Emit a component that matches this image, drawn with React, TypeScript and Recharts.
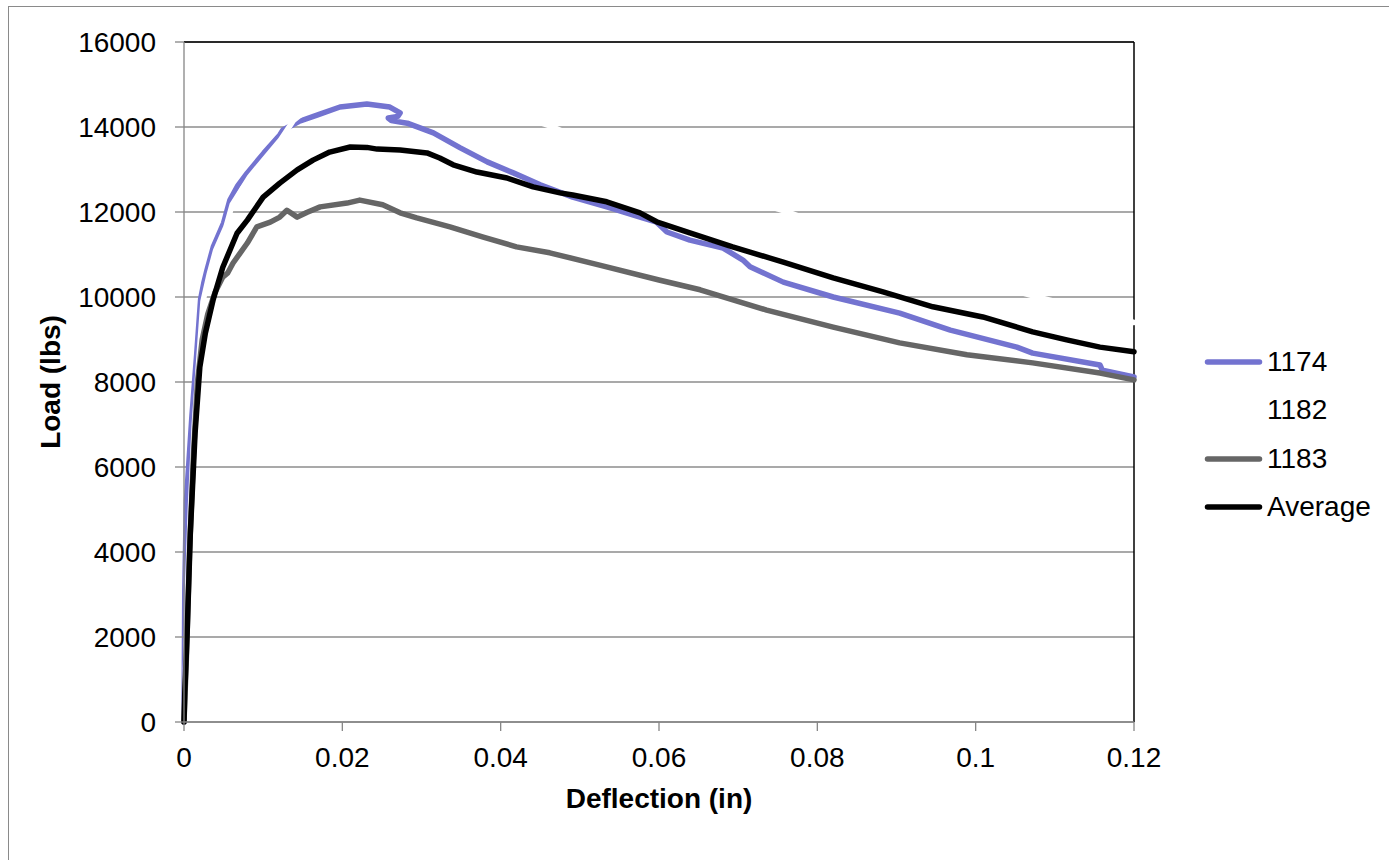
import React from 'react';
import { LineChart, Line, XAxis, YAxis, CartesianGrid, Legend, ReferenceLine, Label } from 'recharts';

const FONT = '"Liberation Sans", Arial, sans-serif';

const xTicks = [0, 0.02, 0.04, 0.06, 0.08, 0.1, 0.12];
const yTicks = [0, 2000, 4000, 6000, 8000, 10000, 12000, 14000, 16000];

// specimen 1174
const defl1174 = [0, 0.0001, 0.0003, 0.001, 0.0016, 0.0021, 0.0025, 0.0029, 0.0037, 0.0044, 0.005, 0.0058, 0.0068, 0.008, 0.0101, 0.0121, 0.0125, 0.0145, 0.0168, 0.0197, 0.0231, 0.026, 0.0273, 0.027, 0.0258, 0.0262, 0.0282, 0.0315, 0.0349, 0.0383, 0.0416, 0.045, 0.0491, 0.0534, 0.0576, 0.0597, 0.061, 0.0639, 0.0681, 0.0706, 0.0715, 0.0757, 0.082, 0.0904, 0.0968, 0.1052, 0.1072, 0.1157, 0.116, 0.12];
const load1174 = [0, 3100, 5200, 7200, 8650, 9950, 10330, 10630, 11180, 11480, 11740, 12280, 12620, 12920, 13390, 13810, 13930, 14130, 14280, 14470, 14540, 14470, 14330, 14250, 14210, 14150, 14090, 13860, 13510, 13180, 12920, 12640, 12350, 12120, 11880, 11760, 11530, 11340, 11150, 10870, 10710, 10350, 10000, 9620, 9220, 8820, 8680, 8400, 8280, 8120];

// specimen 1182 (drawn in white)
const defl1182 = [0, 0.0003, 0.0005, 0.0008, 0.0013, 0.0019, 0.0024, 0.0032, 0.004, 0.0053, 0.0061, 0.0083, 0.0104, 0.0122, 0.0131, 0.0138, 0.016, 0.019, 0.023, 0.027, 0.031, 0.036, 0.041, 0.0466, 0.052, 0.058, 0.064, 0.07, 0.0763, 0.082, 0.088, 0.094, 0.1, 0.1078, 0.114, 0.12];
const load1182 = [0, 2000, 3400, 5000, 7000, 8600, 9900, 10550, 11100, 11650, 12180, 12830, 13300, 13700, 13950, 14150, 14480, 14720, 14860, 14880, 14800, 14600, 14350, 14000, 13550, 13100, 12700, 12350, 12000, 11600, 11150, 10750, 10400, 10000, 9700, 9400];

// specimen 1183
const defl1183 = [0, 0.0003, 0.0007, 0.0012, 0.0017, 0.0023, 0.003, 0.0039, 0.0049, 0.0055, 0.0062, 0.008, 0.0092, 0.0109, 0.0121, 0.013, 0.0143, 0.0155, 0.0172, 0.0206, 0.0222, 0.0251, 0.0273, 0.0294, 0.0336, 0.0378, 0.042, 0.0462, 0.0525, 0.06, 0.0652, 0.0736, 0.082, 0.0904, 0.0989, 0.1072, 0.1157, 0.12];
const load1183 = [0, 1500, 4000, 6300, 8000, 9000, 9600, 10100, 10470, 10560, 10800, 11270, 11650, 11760, 11880, 12040, 11880, 11990, 12120, 12210, 12280, 12170, 11980, 11860, 11650, 11410, 11180, 11040, 10750, 10400, 10170, 9690, 9290, 8920, 8640, 8450, 8210, 8050];

// average
const deflAvg = [0, 0.0001, 0.0004, 0.0008, 0.0014, 0.002, 0.0027, 0.0037, 0.0049, 0.0067, 0.008, 0.01, 0.0121, 0.0143, 0.0163, 0.0184, 0.021, 0.0231, 0.0244, 0.0273, 0.0307, 0.0323, 0.034, 0.037, 0.0408, 0.0441, 0.0475, 0.0491, 0.0534, 0.0576, 0.0597, 0.0639, 0.0693, 0.0757, 0.082, 0.0883, 0.0946, 0.1009, 0.1072, 0.1115, 0.1157, 0.12];
const loadAvg = [0, 700, 2100, 4450, 6800, 8350, 9150, 9950, 10700, 11500, 11810, 12350, 12680, 12990, 13220, 13410, 13530, 13520, 13480, 13460, 13390, 13270, 13110, 12940, 12800, 12590, 12450, 12400, 12240, 11980, 11770, 11510, 11180, 10820, 10450, 10120, 9770, 9530, 9180, 8990, 8820, 8710];

const seriesNames = ['1174', '1182', '1183', 'Average'];
const seriesColors = ['#7373D0', '#FFFFFF', '#666666', '#000000'];

const toPoints = (defl: number[], load: number[]) => defl.map((d, i) => ({ defl: d, load: load[i] }));

const seriesData = [
  toPoints(defl1174, load1174),
  toPoints(defl1182, load1182),
  toPoints(defl1183, load1183),
  toPoints(deflAvg, loadAvg),
];

const renderLegend = () => (
  <div style={{ fontFamily: FONT, fontSize: 28, color: '#000' }}>
    {seriesNames.map((name, i) => (
      <div key={name} style={{ display: 'flex', alignItems: 'center', height: 48.3 }}>
        <svg width={63} height={10} style={{ display: 'block' }}>
          <line x1={4.5} y1={5} x2={56.5} y2={5} stroke={seriesColors[i]} strokeWidth={5.5} strokeLinecap="round" />
        </svg>
        <span style={{ lineHeight: '28px', marginLeft: 1 }}>{name}</span>
      </div>
    ))}
  </div>
);

const App = () => {
  const tickStyle = { fill: '#000', fontSize: 28, fontFamily: FONT };
  return (
    <div>
      <style>{'html,body{margin:0;padding:0;overflow:hidden;background:#fff}'}</style>
      <div
        style={{
          position: 'absolute',
          left: 8,
          top: 6,
          width: 1381,
          height: 854,
          borderLeft: '1px solid #8a8a8a',
          borderTop: '1px solid #8a8a8a',
        }}
      >
        <LineChart width={1380} height={853} margin={{ top: 35, right: 255, left: 0, bottom: 0 }}>
          <CartesianGrid vertical={false} stroke="#8c8c8c" strokeWidth={1.3} />
          <XAxis
            type="number"
            dataKey="defl"
            domain={[0, 0.12]}
            ticks={xTicks}
            interval={0}
            height={138}
            tickSize={9}
            tickMargin={16}
            stroke="#868686"
            strokeWidth={1.3}
            tick={tickStyle}
            tickFormatter={(v: number) => String(v)}
          >
            <Label
              content={(props: any) => {
                const vb = props.viewBox;
                return (
                  <text x={vb.x + vb.width / 2} y={vb.y + 86} textAnchor="middle" fontFamily={FONT} fontSize={28} fontWeight="bold" fill="#000">
                    Deflection (in)
                  </text>
                );
              }}
            />
          </XAxis>
          <YAxis
            type="number"
            dataKey="load"
            domain={[0, 16000]}
            ticks={yTicks}
            interval={0}
            width={175}
            tickSize={9}
            tickMargin={19}
            stroke="#868686"
            strokeWidth={1.3}
            tick={tickStyle}
          >
            <Label
              content={(props: any) => {
                const vb = props.viewBox;
                const cx = vb.x + 51.4;
                const cy = vb.y + vb.height / 2;
                return (
                  <text x={cx} y={cy} transform={`rotate(-90, ${cx}, ${cy})`} textAnchor="middle" fontFamily={FONT} fontSize={28} fontWeight="bold" fill="#000">
                    Load (lbs)
                  </text>
                );
              }}
            />
          </YAxis>
          <ReferenceLine y={16000} stroke="#000" strokeWidth={1.5} />
          <ReferenceLine x={0.12} stroke="#000" strokeWidth={1.5} />
          <Legend
            layout="vertical"
            align="center"
            verticalAlign="middle"
            content={renderLegend}
            wrapperStyle={{ left: 1194, top: 331, width: 185 }}
          />
          {seriesData.map((pts, i) => (
            <Line
              key={seriesNames[i]}
              name={seriesNames[i]}
              data={pts}
              dataKey="load"
              type="linear"
              stroke={seriesColors[i]}
              strokeWidth={5.5}
              strokeLinecap="round"
              strokeLinejoin="round"
              dot={false}
              activeDot={false}
              isAnimationActive={false}
            />
          ))}
        </LineChart>
      </div>
    </div>
  );
};

export default App;
